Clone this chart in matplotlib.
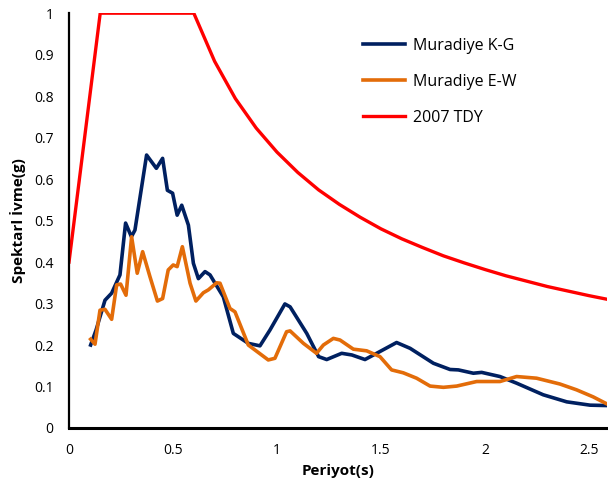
import numpy as np
import matplotlib.pyplot as plt

# Muradiye K-G
kg_t = [0.104, 0.13, 0.173, 0.205, 0.245, 0.272, 0.30, 0.317, 0.373, 0.42, 0.45, 0.473, 0.498,
        0.52, 0.542, 0.574, 0.598, 0.622, 0.654, 0.678, 0.742, 0.79, 0.862, 0.918, 0.966, 1.038,
        1.063, 1.143, 1.20, 1.239, 1.311, 1.36, 1.423, 1.479, 1.575, 1.64, 1.752, 1.832, 1.872,
        1.944, 1.984, 2.072, 2.152, 2.28, 2.393, 2.505, 2.59]
kg_sa = [0.20, 0.236, 0.308, 0.325, 0.369, 0.494, 0.461, 0.477, 0.658, 0.626, 0.65, 0.573, 0.566,
         0.513, 0.537, 0.489, 0.397, 0.36, 0.377, 0.369, 0.316, 0.228, 0.204, 0.198, 0.236, 0.299,
         0.292, 0.228, 0.172, 0.165, 0.18, 0.176, 0.165, 0.18, 0.206, 0.192, 0.156, 0.141, 0.14,
         0.132, 0.134, 0.124, 0.108, 0.08, 0.063, 0.055, 0.054]

# Muradiye E-W
ew_t = [0.104, 0.125, 0.149, 0.173, 0.205, 0.229, 0.248, 0.274, 0.301, 0.328, 0.354, 0.389, 0.425,
        0.45, 0.477, 0.501, 0.52, 0.545, 0.582, 0.61, 0.646, 0.67, 0.71, 0.726, 0.774, 0.798,
        0.862, 0.958, 0.99, 1.046, 1.063, 1.127, 1.19, 1.223, 1.271, 1.303, 1.367, 1.431, 1.495,
        1.551, 1.607, 1.671, 1.736, 1.8, 1.864, 1.96, 2.072, 2.152, 2.248, 2.36, 2.44, 2.52, 2.59]
ew_sa = [0.214, 0.202, 0.284, 0.286, 0.262, 0.345, 0.347, 0.32, 0.461, 0.373, 0.425, 0.365, 0.306,
         0.312, 0.381, 0.393, 0.389, 0.437, 0.349, 0.306, 0.326, 0.333, 0.35, 0.349, 0.288, 0.28,
         0.2, 0.164, 0.168, 0.232, 0.234, 0.204, 0.18, 0.2, 0.216, 0.212, 0.19, 0.186, 0.172,
         0.14, 0.133, 0.12, 0.101, 0.098, 0.101, 0.112, 0.112, 0.124, 0.12, 0.106, 0.092, 0.075, 0.057]

# 2007 TDY design spectrum
tdy_t = [0, 0.15, 0.6, 0.7, 0.8, 0.9, 1.0, 1.1, 1.2, 1.3, 1.4, 1.5, 1.6, 1.7, 1.8, 1.9, 2.0,
         2.1, 2.2, 2.3, 2.4, 2.5, 2.6]
tdy_sa = [0.4, 1.0, 1.0, 0.884, 0.794, 0.723, 0.665, 0.616, 0.574, 0.539, 0.508, 0.480, 0.456,
          0.435, 0.415, 0.398, 0.382, 0.367, 0.354, 0.341, 0.330, 0.319, 0.309]

xticks = [0, 0.5, 1, 1.5, 2, 2.5]
yticks = np.round(np.arange(0, 1.01, 0.1), 1)

plt.rcParams['font.family'] = ['Open Sans', 'DejaVu Sans']

fig = plt.figure(figsize=(6.08, 4.88), dpi=100)
ax = fig.add_axes([0.1135, 0.123, 0.885, 0.850])

ax.plot(kg_t, kg_sa, color='#002060', lw=2.6, label='Muradiye K-G', solid_joinstyle='round')
ax.plot(ew_t, ew_sa, color='#E36C09', lw=2.6, label='Muradiye E-W', solid_joinstyle='round')
ax.plot(tdy_t, tdy_sa, color='#FF0000', lw=2.4, label='2007 TDY', solid_joinstyle='round')

ax.set_xlim(0, 2.587)
ax.set_ylim(0, 1)
ax.set_xticks(xticks)
ax.set_xticklabels(['0', '0.5', '1', '1.5', '2', '2.5'])
ax.set_yticks(yticks)
ax.set_yticklabels(['0'] + [f'{v:g}' for v in yticks[1:]])
ax.tick_params(axis='x', length=0, labelsize=10, pad=11)
ax.tick_params(axis='y', length=0, labelsize=10, pad=11)

for s in ['top', 'right']:
    ax.spines[s].set_visible(False)
ax.spines['left'].set_linewidth(1.6)
ax.spines['bottom'].set_linewidth(2.2)

ax.set_xlabel('Periyot(s)', fontsize=11, fontweight='bold', labelpad=4)
ax.set_ylabel('Spektarl İvme(g)', fontsize=11, fontweight='bold', labelpad=6)

ax.legend(loc='upper left', bbox_to_anchor=(0.52, 0.975), frameon=False, fontsize=11.5,
          handlelength=2.6, labelspacing=1.25, handletextpad=0.5)

fig.savefig('out.png', dpi=100)
